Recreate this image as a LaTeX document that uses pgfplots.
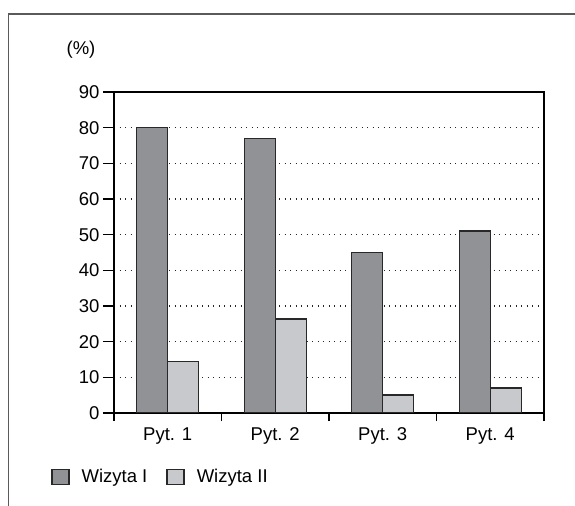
\documentclass[border=0pt]{standalone}
\usepackage{pgfplots}
\pgfplotsset{compat=1.18}
\usepackage{fontspec}
\setmainfont{Liberation Sans}

\definecolor{darkbar}{RGB}{145,146,150}
\definecolor{lightbar}{RGB}{200,201,204}
\definecolor{edge}{RGB}{40,40,40}
\definecolor{frame}{RGB}{90,90,90}

\begin{document}
\begin{tikzpicture}
\useasboundingbox (0,0) rectangle (575bp,506bp);
% outer frame (open on the right and bottom)
\draw[frame, line width=1.6bp] (8.5bp,0) -- (8.5bp,492bp) -- (575bp,492bp);
\node[font=\fontsize{18.5bp}{22bp}\selectfont] at (81bp,456bp) {(\%)};

\begin{axis}[
    at={(114bp,93bp)}, anchor=south west,
    scale only axis,
    width=430bp, height=321bp,
    ybar=0pt, bar width=31bp,
    xmin=0.5, xmax=4.5,
    ymin=0, ymax=90,
    xtick={1,2,3,4},
    xticklabels={Pyt. 1,Pyt. 2,Pyt. 3,Pyt. 4},
    major x tick style={draw=none},
    minor xtick={0.5,1.5,2.5,3.5,4.5},
    minor tick length=8bp,
    ytick={0,10,...,90},
    major tick length=11bp,
    tick align=outside,
    xtick pos=bottom, ytick pos=left,
    ymajorgrids,
    major grid style={black!85, line width=1.2bp, dash pattern=on 1.2bp off 4.3bp},
    axis line style={black, line width=1.5bp},
    tick style={black, line width=1.4bp},
    ticklabel style={font=\fontsize{18.5bp}{22bp}\selectfont},
    /pgf/number format/assume math mode=true,
    legend columns=2,
    legend style={draw=none, fill=none, inner sep=0pt,
        at={(axis description cs:-0.1465,-0.1994)}, anchor=west,
        font=\fontsize{18.5bp}{22bp}\selectfont,
        /tikz/every odd column/.append style={column sep=10bp},
        /tikz/every even column/.append style={column sep=17bp}},
    legend image code/.code={\draw[#1] (0bp,-7.5bp) rectangle (17bp,7.5bp);},
]
\addplot[fill=darkbar, draw=edge, line width=1.4bp] coordinates {(1,80) (2,77) (3,45) (4,51)};
\addplot[fill=lightbar, draw=edge, line width=1.4bp] coordinates {(1,14.5) (2,26.3) (3,5) (4,7)};
\legend{Wizyta I, Wizyta II}
\end{axis}
\end{tikzpicture}
\end{document}
